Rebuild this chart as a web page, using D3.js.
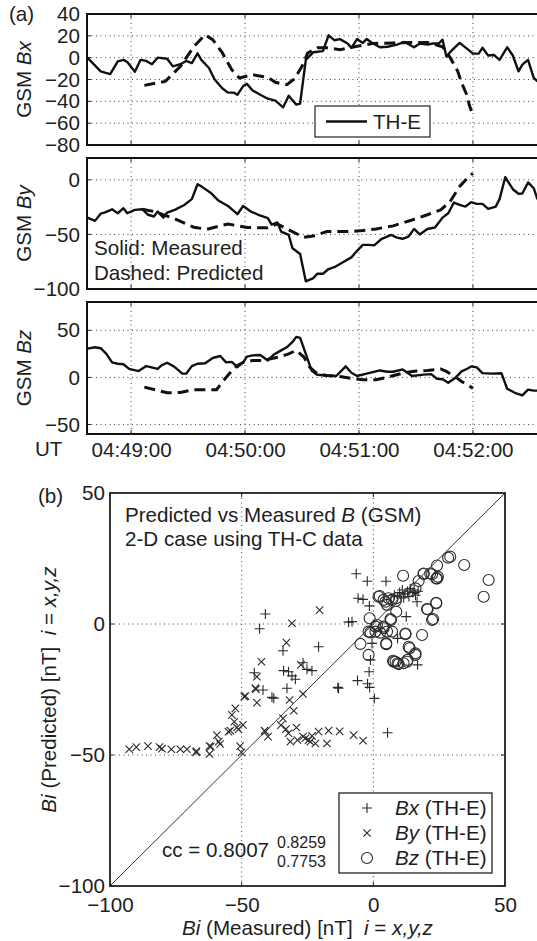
<!DOCTYPE html>
<html>
<head>
<meta charset="utf-8">
<script src="https://cdn.jsdelivr.net/npm/d3@7"></script>
<style>
  body { margin: 0; background: #fff; }
  text { font-family: "Liberation Sans", Arial, sans-serif; fill: #1e1e1e; }
</style>
</head>
<body>
<div id="chart"></div>
<script>
// ---- data (time = seconds after 04:48:00, value = nT) ----
const timeTicks = [60, 120, 180, 240];
const timeTickLabels = ["04:49:00", "04:50:00", "04:51:00", "04:52:00"];

const bxTicks = [-80, -60, -40, -20, 0, 20, 40];
const byTicks = [-100, -50, 0];
const bzTicks = [-50, 0, 50];

const bxMeasured = [[37,0],[44,-12.5],[49,-15],[53,-3.4],[56,-2],[58,-4],[62,-13],[65,-2],[68,-3],[71,-6],[74,0],[79,-1],[82,-8],[86,-6],[89,-3],[92,-5],[95,4],[97,-2],[101,-9.5],[104,-20],[108,-28],[111,-32],[114,-32],[116,-34],[119,-26],[121,-24],[124,-30],[128,-34],[132,-37.6],[136,-39.4],[140,-45.6],[143,-35],[147,-43],[149,-42],[152,-2],[156,5],[161,6],[164,20.5],[167,16],[170,17],[174,13],[176,9],[179,17],[182,13.5],[184,17],[187,13.5],[191,9.5],[195,10],[200,12],[204,14.4],[209,9.5],[212,13],[216,12],[219,13],[222,13],[224,16.5],[226,1],[229,7],[233,13.5],[237,8],[240,3.7],[243,3.7],[245,9],[248,2],[251,2.5],[254,-2],[258,9.5],[261,2],[264,-12.5],[266,-6.4],[269,-2],[272,-18.6],[274,-21.7]];
const bxPredicted = [[67,-25.4],[78,-21.7],[86,-8],[93,10],[99,21],[103,16.5],[108,4.6],[113,-11],[117,-18.6],[124,-15.6],[132,-18],[136,-22.6],[142,-24.8],[146,-19.5],[150,-8],[153,4.3],[158,9],[163,9],[170,7.3],[179,10.4],[187,13],[198,13.5],[207,14],[216,14],[224,10],[228,0],[232,-12.5],[234,-23],[237,-35],[238,-43],[240,-53]];

const byMeasured = [[37,-34.6],[41,-37.6],[44,-31],[46,-30],[50,-27],[53,-30.6],[56,-26],[58,-30.6],[62,-27.5],[66,-27],[69,-32],[72,-33.6],[74,-29],[77,-34.6],[79,-30],[83,-27.5],[88,-23],[92,-17.7],[95,-4],[97,-6],[102,-12],[106,-19],[111,-23.9],[116,-31.5],[119,-24],[123,-29],[127,-32],[132,-35],[134,-41],[137,-39],[139,-47.4],[143,-50.5],[145,-62.7],[149,-68],[152,-93],[156,-90],[158,-86],[161,-86],[164,-81.7],[167,-80],[172,-75],[176,-71],[179,-65],[182,-59.6],[185,-59.6],[188,-60],[192,-54],[197,-50.5],[200,-53],[203,-54],[206,-52],[209,-45],[212,-50],[216,-45],[220,-43.7],[224,-34.6],[227,-30.6],[230,-20.8],[233,-23],[236,-24.5],[239,-20.5],[242,-22],[245,-22],[248,-26.6],[252,-24.5],[254,-17.7],[257,2.4],[261,-8.6],[264,-12.8],[266,-12.5],[269,-2.4],[272,-7.7],[274,-18]];
const byPredicted = [[66,-27],[72,-29],[82,-35],[93,-43.4],[100,-45.3],[111,-40.4],[121,-43.7],[132,-44],[137,-40.4],[143,-45.9],[151,-52.6],[156,-51.4],[163,-47.4],[174,-47.4],[182,-46.5],[189,-45],[198,-42.2],[207,-37.3],[216,-32],[223,-27.5],[228,-19.9],[233,-6],[237,1.5],[240,6]];

const bzMeasured = [[37,30.5],[41,32],[44,31],[47,25],[50,16],[53,14.5],[56,14],[59,9],[64,6.7],[68,12],[74,9],[76,12.8],[79,15.6],[83,11],[87,4],[89,4],[92,12],[95,14.5],[99,15],[103,20.6],[107,22.7],[110,16],[113,16.5],[116,11],[119,16],[121,22],[124,23.4],[128,23.8],[132,18],[135,24],[139,28.7],[142,32],[145,37.6],[147,43],[149,42],[152,25],[155,7.4],[158,2.8],[163,2],[168,1.5],[173,11.7],[176,5],[179,1.5],[184,4],[191,7.4],[195,6],[198,6],[203,8.5],[208,1.5],[214,3],[218,3.5],[221,-1.4],[224,-2],[227,-5.7],[231,0],[234,6.4],[237,9.2],[239,11.7],[242,10.6],[245,4.6],[250,4],[255,4.5],[258,-12],[262,-16.3],[266,-19],[269,-13],[272,-14],[274,-14]];
const bzPredicted = [[67,-10.3],[74,-13.8],[79,-16.3],[86,-16],[93,-13],[100,-13],[105,-13],[108,-5],[112,4.6],[116,12.8],[119,16],[124,18],[129,18],[138,21.6],[143,25],[147,28.7],[151,21.6],[154,11],[158,4],[163,2],[170,1],[177,-1.4],[182,-2.5],[189,-2.5],[195,0.3],[202,4],[208,6.4],[216,7.4],[223,9],[226,6.4],[231,0.3],[234,-4.3],[240,-11.4]];

// scatter: [measured, predicted]
const scatterTicks = [-100, -50, 0, 50];
const bxScatter = [[-41,3.8],[-43.2,-1.8],[-34.3,-10.2],[-20.8,-8.7],[-45.2,-18.6],[-34.1,-17.8],[-32.2,-18.2],[-30.9,-19.8],[-29.6,-21.1],[-26.7,-14.8],[-25.2,-17.3],[-23.3,-17.8],[-41.9,-25.2],[-38.5,-28],[-37.8,-28.3],[-32.8,-24.5],[-13.5,-24.2],[-6.5,19.2],[-2.3,16.3],[4.8,16.3],[-5.8,9.8],[-3.9,9.4],[-1.5,6.9],[-9.4,0.7],[-8.1,0.9],[-0.5,-7.4],[-1.1,-13.7],[-1.6,-18.2],[-6,-21.6],[-2.2,-22.8],[-1.4,-24.2],[-13.2,-24.5],[0.4,-28.4],[5.4,-41.5],[9.2,10.4],[16.6,8.5],[12.5,2.8],[9.2,-5.5],[16.8,-15.6],[10,12],[11,13],[12,11.5],[13,12.5],[14,13.5],[15,12],[16,11],[11.5,10],[13.5,10.5],[15.5,13],[8,11],[17,12.5]];
const byScatter = [[-92.7,-47.8],[-90,-47],[-85.6,-46.6],[-81.2,-47],[-80.3,-47.6],[-76.7,-47.8],[-73.3,-47.8],[-70.8,-47.8],[-67.3,-49],[-67.2,-48.5],[-62.2,-46.6],[-62.2,-49.6],[-61.7,-46.8],[-59.4,-42.4],[-58.7,-44.9],[-58.2,-45.8],[-55,-41.1],[-54.3,-40.7],[-53.7,-34.7],[-52.4,-32.2],[-52.8,-37.3],[-51.8,-39.5],[-51.2,-40.2],[-49.5,-38.5],[-49,-27.7],[-50.6,-46.6],[-50.1,-49],[-48.6,-27.5],[-44.6,-24.9],[-44.2,-30],[-44.2,-20.1],[-44.8,-24.5],[-42.5,-14.4],[-41.3,-40.7],[-41,-41.1],[-40,-43],[-34.3,-36],[-35.1,-38.6],[-33,-7.1],[-30.9,0.3],[-33.2,-40.1],[-32.2,-41.7],[-31.5,-44.9],[-31.8,-29],[-30.2,-33.1],[-29.2,-39.5],[-28.8,-44.3],[-27.5,-15.6],[-26.7,-26.7],[-26.7,-43],[-25.8,-43.6],[-24.6,-44.3],[-23.9,-44.9],[-23.3,-42.7],[-22,-45.6],[-20.8,-41.1],[-20.4,5.3],[-17.6,-45.6],[-17,-40.7],[-12.8,-41],[-7.5,-42.4],[-3.9,-44.5]];
const bzScatter = [[11.3,18.4],[17.2,16.4],[19.1,19.1],[21.6,19.3],[23.9,17.4],[24.5,18],[43.8,16.8],[41.9,10.4],[2.4,10.7],[3.9,9.2],[5.8,9.8],[7.1,9.2],[8.5,8.8],[5.2,7.3],[16,13.6],[23.9,8.1],[20.6,5.6],[22.3,1.5],[8.7,4.7],[-1.4,2.2],[6.7,1.5],[1.4,-0.4],[3.9,-1],[0.8,-2.9],[-1.1,-3.2],[2.6,-3.3],[5.2,-2.9],[7.1,-2.9],[12.2,-3.6],[18.5,-4.2],[4.9,-7.4],[-4.9,-7.6],[-1.8,-11.8],[13.4,-8.7],[13.8,-9.2],[16,-11.2],[8.4,-14.4],[9.6,-15.3],[11.5,-15],[13,-13.7],[7.5,-14],[28.4,25.3],[29.2,25.7],[34.5,22.5],[24.2,22.3],[19.1,19.3],[22.3,19],[24.2,17.4],[2,10.4],[4.6,8.5],[8.7,9.8],[23.9,7.9],[20.4,5.7],[22.7,1.9],[6.5,1.9],[0.8,-1],[3.9,-1.6],[12.2,-3.9],[-1.8,-2.9],[4.9,-7.7],[16,-11.8],[7.7,-14.4],[9.2,-15],[12.8,-14.4]];

// ---- layout ----
const W = 537, H = 941;
const FS = 20.6;
const ink = "#1e1e1e";

const svg = d3.select("#chart").append("svg")
  .attr("width", W).attr("height", H)
  .style("display", "block");

// ================= panel (a) =================
const x = d3.scaleLinear().domain([36.8, 275.3]).range([87, 540]);

const panels = [
  { comp: "x", top: 14, bottom: 145, domain: [-80, 40], ticks: bxTicks, meas: bxMeasured, pred: bxPredicted },
  { comp: "y", top: 158, bottom: 289, domain: [-100, 20], ticks: byTicks, meas: byMeasured, pred: byPredicted },
  { comp: "z", top: 302, bottom: 434, domain: [-60, 80], ticks: bzTicks, meas: bzMeasured, pred: bzPredicted }
];

panels.forEach(function (p, i) {
  const y = d3.scaleLinear().domain(p.domain).range([p.bottom, p.top]);
  const g = svg.append("g").attr("class", "panel" + i);

  svg.append("clipPath").attr("id", "clip" + i)
    .append("rect")
    .attr("x", x.range()[0]).attr("y", p.top)
    .attr("width", x.range()[1] - x.range()[0]).attr("height", p.bottom - p.top);

  // dotted grid
  g.selectAll(".hgrid")
    .data(p.ticks.filter(d => d > p.domain[0] && d < p.domain[1]))
    .enter().append("line")
    .attr("x1", x.range()[0]).attr("x2", x.range()[1])
    .attr("y1", d => y(d)).attr("y2", d => y(d))
    .attr("stroke", "#444").attr("stroke-width", 1)
    .attr("stroke-dasharray", "1,3.5");
  g.selectAll(".vgrid")
    .data(timeTicks).enter().append("line")
    .attr("x1", d => x(d)).attr("x2", d => x(d))
    .attr("y1", p.top).attr("y2", p.bottom)
    .attr("stroke", "#444").attr("stroke-width", 1)
    .attr("stroke-dasharray", "1,3.5");

  // y axis labels
  const yAxis = d3.axisLeft(y).tickValues(p.ticks).tickSize(0).tickPadding(7);
  const ya = g.append("g").attr("transform", `translate(${x.range()[0]},0)`).call(yAxis);
  ya.select(".domain").remove();
  ya.selectAll("text").attr("font-size", FS).attr("font-family", null).style("fill", ink);

  // small inward ticks
  g.selectAll(".ytick").data(p.ticks).enter().append("line")
    .attr("x1", x.range()[0]).attr("x2", x.range()[0] + 4)
    .attr("y1", d => y(d)).attr("y2", d => y(d))
    .attr("stroke", ink).attr("stroke-width", 1);
  [p.top, p.bottom].forEach(function (yy, k) {
    g.selectAll(".xtick" + k).data(timeTicks).enter().append("line")
      .attr("x1", d => x(d)).attr("x2", d => x(d))
      .attr("y1", yy).attr("y2", k === 0 ? yy + 4 : yy - 4)
      .attr("stroke", ink).attr("stroke-width", 1);
  });

  // series
  const line = d3.line().x(d => x(d[0])).y(d => y(d[1]));
  const lines = g.append("g").attr("clip-path", `url(#clip${i})`);
  lines.append("path").datum(p.meas)
    .attr("d", line).attr("fill", "none")
    .attr("stroke", "#111").attr("stroke-width", 2.4)
    .attr("stroke-linejoin", "round");
  lines.append("path").datum(p.pred)
    .attr("d", line).attr("fill", "none")
    .attr("stroke", "#111").attr("stroke-width", 3)
    .attr("stroke-dasharray", "11,6");

  // frame
  g.append("rect")
    .attr("x", x.range()[0]).attr("y", p.top)
    .attr("width", x.range()[1] - x.range()[0]).attr("height", p.bottom - p.top)
    .attr("fill", "none").attr("stroke", "#111").attr("stroke-width", 2);

  // y title: GSM B<comp>
  const cy = (p.top + p.bottom) / 2;
  const t = svg.append("text")
    .attr("transform", `translate(31,${cy}) rotate(-90)`)
    .attr("text-anchor", "middle").attr("font-size", FS);
  t.append("tspan").text("GSM ");
  t.append("tspan").attr("font-style", "italic").text("B" + p.comp);

  if (i === 2) {
    const xAxis = d3.axisBottom(x).tickValues(timeTicks)
      .tickFormat((d, k) => timeTickLabels[k]).tickSize(0).tickPadding(8);
    const xa = g.append("g").attr("transform", `translate(0,${p.bottom})`).call(xAxis);
    xa.select(".domain").remove();
    xa.selectAll("text").attr("font-size", FS).attr("font-family", null).style("fill", ink);
    svg.append("text").attr("x", 35).attr("y", 456).attr("font-size", FS).text("UT");
  }
});

svg.append("text").attr("x", 9).attr("y", 21).attr("font-size", FS).text("(a)");

// legend in Bx panel
svg.append("rect").attr("x", 315).attr("y", 106).attr("width", 115).attr("height", 31)
  .attr("fill", "#fff").attr("stroke", "#333").attr("stroke-width", 1.3);
svg.append("line").attr("x1", 326).attr("x2", 367).attr("y1", 121.5).attr("y2", 121.5)
  .attr("stroke", "#111").attr("stroke-width", 2.4);
svg.append("text").attr("x", 373).attr("y", 128.5).attr("font-size", FS).text("TH-E");

// annotation in By panel
svg.append("text").attr("x", 94).attr("y", 255).attr("font-size", FS).text("Solid: Measured");
svg.append("text").attr("x", 94).attr("y", 280).attr("font-size", FS).text("Dashed: Predicted");

// ================= panel (b) =================
const sx = d3.scaleLinear().domain([-100, 50]).range([110, 505]);
const sy = d3.scaleLinear().domain([-100, 50]).range([886, 493]);
const gb = svg.append("g");

const inner = scatterTicks.filter(d => d > -100 && d < 50);
gb.selectAll(".sgh").data(inner).enter().append("line")
  .attr("x1", sx(-100)).attr("x2", sx(50))
  .attr("y1", d => sy(d)).attr("y2", d => sy(d))
  .attr("stroke", "#444").attr("stroke-dasharray", "1,3.5");
gb.selectAll(".sgv").data(inner).enter().append("line")
  .attr("x1", d => sx(d)).attr("x2", d => sx(d))
  .attr("y1", sy(-100)).attr("y2", sy(50))
  .attr("stroke", "#444").attr("stroke-dasharray", "1,3.5");

// identity line
gb.append("line")
  .attr("x1", sx(-100)).attr("y1", sy(-100))
  .attr("x2", sx(50)).attr("y2", sy(50))
  .attr("stroke", "#333").attr("stroke-width", 1);

const mk = "#2a2a2a";
gb.selectAll(".bx").data(bxScatter).enter().append("path")
  .attr("transform", d => `translate(${sx(d[0])},${sy(d[1])})`)
  .attr("d", "M-5,0H5M0,-5V5").attr("stroke", mk).attr("stroke-width", 1.1).attr("fill", "none");
gb.selectAll(".by").data(byScatter).enter().append("path")
  .attr("transform", d => `translate(${sx(d[0])},${sy(d[1])})`)
  .attr("d", "M-3.7,-3.7L3.7,3.7M-3.7,3.7L3.7,-3.7").attr("stroke", mk).attr("stroke-width", 1.1).attr("fill", "none");
gb.selectAll(".bz").data(bzScatter).enter().append("circle")
  .attr("cx", d => sx(d[0])).attr("cy", d => sy(d[1])).attr("r", 5.5)
  .attr("stroke", mk).attr("stroke-width", 1.1).attr("fill", "none");

// axes
const sya = gb.append("g").attr("transform", `translate(${sx(-100)},0)`)
  .call(d3.axisLeft(sy).tickValues(scatterTicks).tickSize(0).tickPadding(5));
sya.select(".domain").remove();
sya.selectAll("text").attr("font-size", FS).attr("font-family", null).style("fill", ink);
const sxa = gb.append("g").attr("transform", `translate(0,${sy(-100)})`)
  .call(d3.axisBottom(sx).tickValues(scatterTicks).tickSize(0).tickPadding(11));
sxa.select(".domain").remove();
sxa.selectAll("text").attr("font-size", FS).attr("font-family", null).style("fill", ink);

// inward ticks
scatterTicks.forEach(function (d) {
  gb.append("line").attr("x1", sx(-100)).attr("x2", sx(-100) + 4).attr("y1", sy(d)).attr("y2", sy(d)).attr("stroke", ink);
  gb.append("line").attr("x1", sx(50)).attr("x2", sx(50) - 4).attr("y1", sy(d)).attr("y2", sy(d)).attr("stroke", ink);
  gb.append("line").attr("x1", sx(d)).attr("x2", sx(d)).attr("y1", sy(-100)).attr("y2", sy(-100) - 4).attr("stroke", ink);
  gb.append("line").attr("x1", sx(d)).attr("x2", sx(d)).attr("y1", sy(50)).attr("y2", sy(50) + 4).attr("stroke", ink);
});

gb.append("rect")
  .attr("x", sx(-100)).attr("y", sy(50))
  .attr("width", sx(50) - sx(-100)).attr("height", sy(-100) - sy(50))
  .attr("fill", "none").attr("stroke", "#222").attr("stroke-width", 1.8);

svg.append("text").attr("x", 38).attr("y", 503).attr("font-size", FS).text("(b)");

const t1 = svg.append("text").attr("x", 125).attr("y", 522).attr("font-size", FS);
t1.append("tspan").text("Predicted vs Measured ");
t1.append("tspan").attr("font-style", "italic").text("B");
t1.append("tspan").text(" (GSM)");
svg.append("text").attr("x", 125).attr("y", 546).attr("font-size", FS).text("2-D case using TH-C data");

// correlation coefficient
svg.append("text").attr("x", 162).attr("y", 857).attr("font-size", FS).text("cc = 0.8007");
svg.append("text").attr("x", 277).attr("y", 848).attr("font-size", 16).text("0.8259");
svg.append("text").attr("x", 277).attr("y", 867).attr("font-size", 16).text("0.7753");

// legend (b)
svg.append("rect").attr("x", 339).attr("y", 793).attr("width", 153).attr("height", 80)
  .attr("fill", "#fff").attr("stroke", "#222").attr("stroke-width", 1.3);
const legRows = [
  { sym: "M-5,0H5M0,-5V5", name: "Bx" },
  { sym: "M-3.7,-3.7L3.7,3.7M-3.7,3.7L3.7,-3.7", name: "By" },
  { sym: null, name: "Bz" }
];
legRows.forEach(function (r, k) {
  const cy = 808 + k * 25;
  if (r.sym) {
    svg.append("path").attr("transform", `translate(367,${cy})`).attr("d", r.sym)
      .attr("stroke", mk).attr("stroke-width", 1.1).attr("fill", "none");
  } else {
    svg.append("circle").attr("cx", 367).attr("cy", cy).attr("r", 5.5)
      .attr("stroke", mk).attr("stroke-width", 1.1).attr("fill", "none");
  }
  const tt = svg.append("text").attr("x", 395).attr("y", cy + 7).attr("font-size", FS);
  tt.append("tspan").attr("font-style", "italic").text(r.name);
  tt.append("tspan").text(" (TH-E)");
});

// axis titles (b)
const yl = svg.append("text")
  .attr("transform", `translate(56,${(sy(50) + sy(-100)) / 2}) rotate(-90)`)
  .attr("text-anchor", "middle").attr("font-size", FS).style("white-space", "pre");
yl.append("tspan").attr("font-style", "italic").text("Bi");
yl.append("tspan").text(" (Predicted) [nT]  ");
yl.append("tspan").attr("font-style", "italic").text("i");
yl.append("tspan").text(" = ");
yl.append("tspan").attr("font-style", "italic").text("x,y,z");

const xl = svg.append("text")
  .attr("x", (sx(-100) + sx(50)) / 2).attr("y", 935)
  .attr("text-anchor", "middle").attr("font-size", FS).style("white-space", "pre");
xl.append("tspan").attr("font-style", "italic").text("Bi");
xl.append("tspan").text(" (Measured) [nT]  ");
xl.append("tspan").attr("font-style", "italic").text("i");
xl.append("tspan").text(" = ");
xl.append("tspan").attr("font-style", "italic").text("x,y,z");
</script>
</body>
</html>
